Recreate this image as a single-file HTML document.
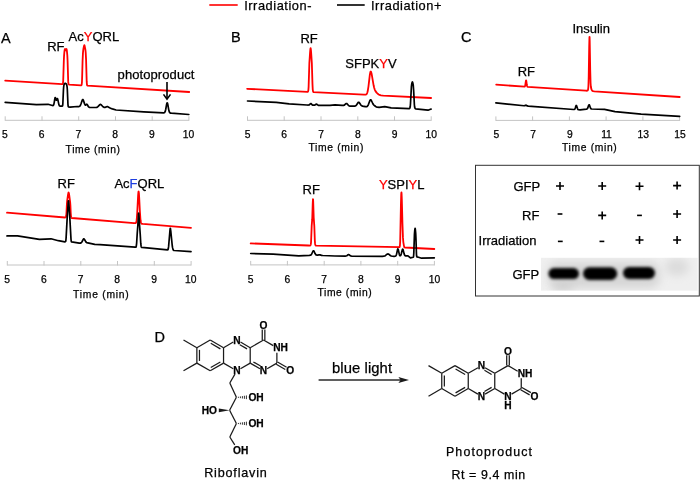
<!DOCTYPE html>
<html><head><meta charset="utf-8"><title>Figure</title>
<style>
html,body{margin:0;padding:0;background:#fff;}
body{width:700px;height:480px;overflow:hidden;}
svg{display:block;will-change:transform;}
svg text{font-family:"Liberation Sans",sans-serif;fill:#000;stroke:#000;stroke-width:0.25px;}
</style></head><body>
<svg width="700" height="480" viewBox="0 0 700 480">
<rect width="700" height="480" fill="#fff"/>
<path d="M5.2,120.3H188.9" stroke="#c4c4c4" stroke-width="1" fill="none"/>
<path d="M5.2,120.8V116.3" stroke="#c4c4c4" stroke-width="1" fill="none"/>
<text x="4.8" y="137.9" font-size="10.3" text-anchor="middle">5</text>
<path d="M42.0,120.8V116.3" stroke="#c4c4c4" stroke-width="1" fill="none"/>
<text x="41.6" y="137.9" font-size="10.3" text-anchor="middle">6</text>
<path d="M78.7,120.8V116.3" stroke="#c4c4c4" stroke-width="1" fill="none"/>
<text x="78.3" y="137.9" font-size="10.3" text-anchor="middle">7</text>
<path d="M115.5,120.8V116.3" stroke="#c4c4c4" stroke-width="1" fill="none"/>
<text x="115.0" y="137.9" font-size="10.3" text-anchor="middle">8</text>
<path d="M152.2,120.8V116.3" stroke="#c4c4c4" stroke-width="1" fill="none"/>
<text x="151.8" y="137.9" font-size="10.3" text-anchor="middle">9</text>
<path d="M188.9,120.8V116.3" stroke="#c4c4c4" stroke-width="1" fill="none"/>
<text x="188.5" y="137.9" font-size="10.3" text-anchor="middle">10</text>
<text x="65.6" y="153.1" font-size="10.3" textLength="54.4" lengthAdjust="spacing">Time (min)</text>
<path d="M7.3,265.0H191.1" stroke="#c4c4c4" stroke-width="1" fill="none"/>
<path d="M7.3,265.5V261.0" stroke="#c4c4c4" stroke-width="1" fill="none"/>
<text x="7.0" y="282.9" font-size="10.3" text-anchor="middle">5</text>
<path d="M44.0,265.5V261.0" stroke="#c4c4c4" stroke-width="1" fill="none"/>
<text x="43.8" y="282.9" font-size="10.3" text-anchor="middle">6</text>
<path d="M80.8,265.5V261.0" stroke="#c4c4c4" stroke-width="1" fill="none"/>
<text x="80.5" y="282.9" font-size="10.3" text-anchor="middle">7</text>
<path d="M117.5,265.5V261.0" stroke="#c4c4c4" stroke-width="1" fill="none"/>
<text x="117.2" y="282.9" font-size="10.3" text-anchor="middle">8</text>
<path d="M154.3,265.5V261.0" stroke="#c4c4c4" stroke-width="1" fill="none"/>
<text x="154.0" y="282.9" font-size="10.3" text-anchor="middle">9</text>
<path d="M191.1,265.5V261.0" stroke="#c4c4c4" stroke-width="1" fill="none"/>
<text x="190.8" y="282.9" font-size="10.3" text-anchor="middle">10</text>
<text x="73.1" y="297.6" font-size="10.3" textLength="55.6" lengthAdjust="spacing">Time (min)</text>
<path d="M247.5,120.3H431.2" stroke="#c4c4c4" stroke-width="1" fill="none"/>
<path d="M247.5,120.8V116.3" stroke="#c4c4c4" stroke-width="1" fill="none"/>
<text x="247.5" y="137.9" font-size="10.3" text-anchor="middle">5</text>
<path d="M284.2,120.8V116.3" stroke="#c4c4c4" stroke-width="1" fill="none"/>
<text x="284.2" y="137.9" font-size="10.3" text-anchor="middle">6</text>
<path d="M321.0,120.8V116.3" stroke="#c4c4c4" stroke-width="1" fill="none"/>
<text x="321.0" y="137.9" font-size="10.3" text-anchor="middle">7</text>
<path d="M357.8,120.8V116.3" stroke="#c4c4c4" stroke-width="1" fill="none"/>
<text x="357.8" y="137.9" font-size="10.3" text-anchor="middle">8</text>
<path d="M394.5,120.8V116.3" stroke="#c4c4c4" stroke-width="1" fill="none"/>
<text x="394.5" y="137.9" font-size="10.3" text-anchor="middle">9</text>
<path d="M431.2,120.8V116.3" stroke="#c4c4c4" stroke-width="1" fill="none"/>
<text x="431.2" y="137.9" font-size="10.3" text-anchor="middle">10</text>
<text x="308.4" y="150.6" font-size="10.3" textLength="55" lengthAdjust="spacing">Time (min)</text>
<path d="M250.7,264.9H434.4" stroke="#c4c4c4" stroke-width="1" fill="none"/>
<path d="M250.7,265.4V260.9" stroke="#c4c4c4" stroke-width="1" fill="none"/>
<text x="250.7" y="283.1" font-size="10.3" text-anchor="middle">5</text>
<path d="M287.4,265.4V260.9" stroke="#c4c4c4" stroke-width="1" fill="none"/>
<text x="287.4" y="283.1" font-size="10.3" text-anchor="middle">6</text>
<path d="M324.2,265.4V260.9" stroke="#c4c4c4" stroke-width="1" fill="none"/>
<text x="324.2" y="283.1" font-size="10.3" text-anchor="middle">7</text>
<path d="M360.9,265.4V260.9" stroke="#c4c4c4" stroke-width="1" fill="none"/>
<text x="360.9" y="283.1" font-size="10.3" text-anchor="middle">8</text>
<path d="M397.7,265.4V260.9" stroke="#c4c4c4" stroke-width="1" fill="none"/>
<text x="397.7" y="283.1" font-size="10.3" text-anchor="middle">9</text>
<path d="M434.4,265.4V260.9" stroke="#c4c4c4" stroke-width="1" fill="none"/>
<text x="434.4" y="283.1" font-size="10.3" text-anchor="middle">10</text>
<text x="317.5" y="295.5" font-size="10.3" textLength="54.2" lengthAdjust="spacing">Time (min)</text>
<path d="M495.9,120.4H679.6" stroke="#c4c4c4" stroke-width="1" fill="none"/>
<path d="M495.9,120.9V116.4" stroke="#c4c4c4" stroke-width="1" fill="none"/>
<text x="496.3" y="138.3" font-size="10.3" text-anchor="middle">5</text>
<path d="M532.6,120.9V116.4" stroke="#c4c4c4" stroke-width="1" fill="none"/>
<text x="533.0" y="138.3" font-size="10.3" text-anchor="middle">7</text>
<path d="M569.4,120.9V116.4" stroke="#c4c4c4" stroke-width="1" fill="none"/>
<text x="569.8" y="138.3" font-size="10.3" text-anchor="middle">9</text>
<path d="M606.1,120.9V116.4" stroke="#c4c4c4" stroke-width="1" fill="none"/>
<text x="606.5" y="138.3" font-size="10.3" text-anchor="middle">11</text>
<path d="M642.9,120.9V116.4" stroke="#c4c4c4" stroke-width="1" fill="none"/>
<text x="643.3" y="138.3" font-size="10.3" text-anchor="middle">13</text>
<path d="M679.6,120.9V116.4" stroke="#c4c4c4" stroke-width="1" fill="none"/>
<text x="680.0" y="138.3" font-size="10.3" text-anchor="middle">15</text>
<text x="562.0" y="151.2" font-size="10.3" textLength="54.8" lengthAdjust="spacing">Time (min)</text>
<path d="M5.20,80.60L62.08,84.12L62.58,84.09L62.83,83.78L62.95,83.35L63.20,80.85L63.83,60.55L64.08,55.33L64.33,52.46L64.58,50.39L64.83,49.19L64.95,49.04L65.08,49.15L65.45,50.00L65.70,50.24L65.95,49.98L66.33,49.11L66.45,49.00L66.58,49.16L66.83,50.41L67.33,55.49L67.58,60.76L68.20,81.15L68.33,82.82L68.58,84.14L68.83,84.48L69.20,84.56L80.95,85.29L81.33,85.25L81.58,84.90L81.70,84.48L81.95,82.18L82.20,75.32L82.58,60.69L82.95,53.15L83.20,50.42L83.45,48.75L84.08,45.75L84.33,45.17L84.45,45.26L84.58,45.60L85.20,48.59L85.45,50.16L85.70,52.67L86.08,59.63L86.70,81.66L86.95,84.57L87.20,85.41L87.45,85.66L189.20,92.00" fill="none" stroke="#ff0000" stroke-width="1.8" stroke-linejoin="round" stroke-linecap="round"/>
<path d="M5.20,102.40L36.33,104.59L48.08,104.30L52.33,105.46L52.95,105.56L53.20,105.50L53.45,105.24L53.83,104.34L54.20,102.55L54.83,98.61L55.08,97.67L55.20,97.49L55.33,97.51L55.45,97.72L56.08,99.86L56.33,100.25L56.45,100.23L56.58,100.08L57.20,98.70L57.33,98.61L57.45,98.65L57.58,98.83L57.95,100.16L58.83,104.37L59.08,105.09L59.45,105.71L59.83,105.98L60.20,106.07L62.33,106.18L62.58,105.76L62.83,103.95L63.45,89.73L63.70,86.54L63.95,85.07L64.33,83.90L64.58,83.64L65.33,83.35L65.58,83.40L65.95,83.64L66.45,84.13L66.83,85.33L67.08,86.77L67.33,89.76L67.95,104.31L68.20,106.39L68.33,106.76L68.58,107.00L70.08,107.19L77.20,106.51L78.83,106.53L79.45,106.36L79.95,105.98L80.45,105.22L80.95,104.00L82.20,100.19L82.58,99.59L82.83,99.51L83.08,99.68L83.45,100.39L84.58,103.88L85.08,104.88L85.33,105.08L85.58,105.08L86.45,104.29L86.70,104.19L86.95,104.27L87.33,104.72L88.45,106.71L88.95,107.15L89.58,107.36L95.20,107.50L96.70,107.35L97.33,107.11L97.95,106.66L99.83,104.66L100.20,104.45L100.58,104.41L101.20,104.72L102.95,106.70L103.45,107.11L103.95,107.36L104.45,107.45L104.95,107.42L106.83,106.71L107.33,106.64L107.70,106.68L108.33,106.94L109.70,107.84L110.45,108.22L112.33,108.89L116.08,110.01L143.70,111.90L163.70,112.85L164.20,112.76L164.57,112.54L164.95,112.02L165.20,111.43L165.70,109.48L166.70,103.96L166.95,103.13L167.20,102.84L167.45,103.14L167.70,104.00L168.70,109.58L169.07,111.16L169.57,112.39L170.07,112.90L170.57,113.08L171.32,113.17L188.82,114.49" fill="none" stroke="#000000" stroke-width="1.7" stroke-linejoin="round" stroke-linecap="round"/>
<path d="M7.00,212.70L65.00,217.49L65.50,217.47L65.75,217.25L66.00,216.73L66.25,215.56L66.50,212.07L66.88,204.19L67.12,201.22L68.00,194.90L68.38,192.92L68.50,192.54L68.62,192.45L68.88,193.18L69.25,195.31L70.12,201.90L70.38,205.13L70.75,213.12L71.00,216.23L71.25,217.30L71.50,217.80L71.75,218.01L134.00,223.19L135.38,223.22L135.62,223.14L135.88,222.92L136.25,222.09L136.50,220.93L136.75,219.04L137.25,212.34L138.12,195.33L138.38,192.33L138.50,191.59L138.62,191.42L138.88,192.82L139.12,196.23L139.88,211.21L140.38,218.59L140.62,220.79L140.88,222.18L141.25,223.25L141.62,223.66L142.00,223.81L142.88,223.92L191.00,227.89" fill="none" stroke="#ff0000" stroke-width="1.8" stroke-linejoin="round" stroke-linecap="round"/>
<path d="M7.00,235.90L17.50,235.90L39.38,239.30L51.00,238.80L58.38,240.71L64.88,241.80L65.50,241.73L65.75,241.18L65.88,240.45L66.12,237.64L67.25,216.59L68.12,203.84L68.38,201.17L68.50,200.75L68.62,201.17L68.88,203.85L69.75,216.63L71.00,239.36L71.25,241.26L71.38,241.65L71.62,241.92L79.25,243.06L80.38,243.11L81.00,242.86L81.62,242.28L82.12,241.49L83.25,239.30L83.62,238.92L83.88,238.87L84.12,239.00L84.50,239.46L85.88,241.92L86.25,242.32L86.62,242.57L94.75,244.39L100.00,244.60L135.00,247.20L135.88,247.17L136.12,246.81L136.25,246.35L136.62,243.36L137.25,233.21L137.88,224.85L138.50,214.33L138.62,213.19L138.75,213.08L139.00,215.80L139.50,224.50L140.25,234.81L140.75,243.22L141.12,246.38L141.25,246.89L141.50,247.33L141.88,247.43L167.50,249.83L167.88,249.77L168.12,249.30L168.25,248.81L168.62,246.39L170.00,230.02L170.25,228.31L170.38,228.26L170.75,230.83L172.25,245.75L172.62,247.88L173.12,249.66L173.38,250.21L173.62,250.41L174.25,250.50L191.00,251.69" fill="none" stroke="#000000" stroke-width="1.7" stroke-linejoin="round" stroke-linecap="round"/>
<path d="M247.10,88.80L307.35,91.81L307.60,91.81L307.85,91.71L308.10,91.27L308.35,90.21L308.60,87.13L309.35,63.18L310.10,51.99L310.35,49.37L310.48,48.50L310.60,48.18L310.73,48.51L310.85,49.40L311.10,52.04L311.85,63.30L312.48,84.13L312.73,89.31L312.98,91.09L313.23,91.81L313.48,92.08L363.85,94.63L365.23,94.66L365.98,94.52L366.48,94.19L366.98,93.47L367.35,92.51L367.73,91.05L368.48,86.32L369.85,74.58L370.35,72.07L370.48,71.77L370.73,71.53L370.85,71.59L371.10,71.97L371.60,73.71L373.60,85.31L374.10,87.51L374.73,89.52L375.48,91.11L376.60,92.65L378.10,94.09L378.73,94.53L379.48,94.93L380.98,95.37L383.35,95.60L431.10,98.00" fill="none" stroke="#ff0000" stroke-width="1.8" stroke-linejoin="round" stroke-linecap="round"/>
<path d="M247.50,101.00L276.25,102.30L289.12,103.90L306.88,105.00L308.38,105.03L309.00,104.93L309.50,104.64L310.38,103.77L310.62,103.62L310.88,103.60L311.25,103.82L312.25,104.85L312.88,105.13L313.88,105.22L314.62,105.14L315.12,104.92L316.00,104.28L316.38,104.16L316.75,104.27L318.00,105.19L318.50,105.34L319.12,105.39L330.00,105.40L335.00,104.80L342.12,105.42L343.38,105.45L343.88,105.35L344.38,105.12L345.88,103.71L346.25,103.50L346.50,103.48L346.75,103.55L347.12,103.83L348.38,105.30L349.00,105.79L349.88,106.12L350.88,106.20L354.25,106.17L355.00,106.07L355.50,105.89L356.00,105.56L356.50,105.02L358.12,102.56L358.50,102.29L358.75,102.25L359.00,102.34L359.38,102.67L360.88,104.98L361.25,105.42L361.75,105.81L362.50,106.09L365.25,106.62L366.25,106.71L366.75,106.64L367.12,106.48L367.50,106.12L367.88,105.59L368.50,104.28L369.88,100.61L370.25,100.00L370.62,99.77L370.88,99.84L371.25,100.26L372.75,103.49L373.12,104.14L373.62,104.79L374.38,105.48L375.75,106.50L376.50,106.93L377.25,107.19L379.12,107.39L384.75,106.61L391.12,107.90L409.12,108.72L409.50,108.56L409.75,108.18L410.00,107.62L410.25,106.46L410.50,103.47L411.38,86.96L411.75,83.97L412.12,82.44L412.38,81.95L412.50,82.02L412.75,82.72L413.25,85.24L413.62,90.04L414.38,104.72L414.62,107.04L414.88,107.93L415.25,108.63L415.62,108.88L428.00,110.20L431.12,109.03" fill="none" stroke="#000000" stroke-width="1.7" stroke-linejoin="round" stroke-linecap="round"/>
<path d="M250.70,243.40L308.32,245.50L309.95,245.53L310.32,245.43L310.57,245.02L310.82,244.15L311.07,242.05L311.70,225.63L312.20,219.42L312.32,216.81L312.70,204.35L312.95,199.06L313.07,199.28L313.20,201.52L313.70,217.52L314.32,226.18L314.82,240.54L315.07,243.69L315.32,244.83L315.70,245.54L316.20,245.64L399.45,247.15L399.70,246.75L399.95,245.25L400.20,241.01L400.95,203.15L401.20,195.08L401.32,192.94L401.45,192.37L401.57,193.39L401.82,199.21L402.45,223.56L402.95,237.38L403.32,242.03L403.95,245.87L404.32,247.23L404.57,247.45L404.82,247.48L434.32,249.00" fill="none" stroke="#ff0000" stroke-width="1.8" stroke-linejoin="round" stroke-linecap="round"/>
<path d="M250.70,253.50L273.07,254.20L298.82,255.80L309.20,255.33L310.57,255.14L311.07,254.85L311.57,254.24L312.95,251.25L313.20,250.90L313.45,250.74L313.70,250.80L314.07,251.28L315.07,253.54L315.70,254.55L316.32,255.01L317.07,255.17L317.82,255.13L319.07,254.80L319.57,254.75L320.07,254.83L321.57,255.33L322.95,255.48L334.95,256.00L345.32,256.06L346.07,256.00L346.70,255.80L348.07,254.71L348.57,254.52L349.07,254.69L350.07,255.54L350.57,255.86L351.07,256.02L351.70,256.09L382.45,256.29L383.82,256.20L384.70,255.97L385.57,255.46L387.07,254.21L387.57,253.97L387.95,253.92L388.32,254.00L388.70,254.20L390.32,255.53L391.20,256.01L392.32,256.24L394.07,256.28L395.45,256.14L395.82,255.90L396.07,255.57L396.57,254.18L397.57,249.46L397.82,248.95L397.95,248.92L398.07,249.07L398.32,249.79L399.32,254.44L399.57,255.13L399.95,255.65L400.20,255.74L400.45,255.64L400.70,255.37L400.95,254.89L401.32,253.77L402.20,250.12L402.45,249.43L402.70,249.18L402.82,249.24L403.07,249.70L404.20,254.10L404.45,254.78L404.82,255.42L405.20,255.72L405.57,255.83L407.95,255.80L410.45,257.89L413.20,257.20L413.45,256.88L413.57,256.33L413.82,252.90L414.45,234.00L414.82,229.63L415.07,228.39L415.20,228.56L415.32,229.23L415.70,233.21L415.95,238.78L416.45,254.14L416.57,255.74L416.82,256.87L417.07,257.02L417.70,257.03L421.57,258.19L434.32,257.90" fill="none" stroke="#000000" stroke-width="1.7" stroke-linejoin="round" stroke-linecap="round"/>
<path d="M496.20,84.70L524.58,86.57L524.83,86.45L524.95,86.29L525.20,85.59L525.83,81.29L526.08,80.33L526.20,80.47L526.33,81.01L526.83,84.77L527.08,86.00L527.33,86.56L527.58,86.75L527.83,86.81L585.70,90.70L586.83,90.73L587.45,90.59L587.83,90.24L588.08,89.49L588.33,87.30L588.45,85.06L588.70,76.71L589.20,46.39L589.45,36.97L589.58,37.07L589.70,40.52L590.20,69.42L590.58,83.06L590.83,86.52L591.08,88.05L591.33,88.93L591.70,89.87L592.08,90.50L592.45,90.87L593.08,91.14L594.33,91.28L679.70,97.00" fill="none" stroke="#ff0000" stroke-width="1.8" stroke-linejoin="round" stroke-linecap="round"/>
<path d="M495.90,102.90L524.02,105.73L524.77,105.70L525.65,105.26L526.02,105.18L526.27,105.27L527.27,105.92L528.27,106.10L573.65,109.50L574.40,109.40L574.65,109.23L574.90,108.90L575.27,108.02L575.90,106.02L576.15,105.55L576.27,105.47L576.40,105.51L576.65,105.94L577.40,108.37L577.90,109.38L578.15,109.61L578.52,109.77L580.02,109.90L586.40,109.17L587.02,108.98L587.40,108.62L587.65,108.20L588.65,105.36L588.90,104.88L589.15,104.75L589.27,104.83L589.52,105.26L590.27,107.45L590.65,108.27L591.15,108.81L591.77,108.99L604.52,109.41L615.02,111.60L641.15,114.10L679.65,116.40" fill="none" stroke="#000000" stroke-width="1.7" stroke-linejoin="round" stroke-linecap="round"/>
<path d="M209.3,5H237.7" stroke="#ff0000" stroke-width="1.6"/>
<path d="M337,5H364.7" stroke="#000000" stroke-width="1.6"/>
<text x="244.2" y="9.8" font-size="12.8" textLength="67.2" lengthAdjust="spacing">Irradiation-</text>
<text x="371" y="9.8" font-size="12.8" textLength="70.4" lengthAdjust="spacing">Irradiation+</text>
<text x="0.9" y="42.8" font-size="14.5" >A</text>
<text x="230.9" y="42.4" font-size="14.5" >B</text>
<text x="460.9" y="42.0" font-size="14.5" >C</text>
<text x="154.6" y="341.8" font-size="14.5" >D</text>
<text x="47.2" y="50.8" font-size="13" >RF</text>
<text x="68.6" y="40.6" font-size="13" >Ac<tspan fill="#ff0000" stroke="#ff0000">Y</tspan>QRL</text>
<text x="117.6" y="78.6" font-size="13" textLength="76.8" lengthAdjust="spacing">photoproduct</text>
<text x="57.5" y="188.0" font-size="13" >RF</text>
<text x="114.4" y="188.2" font-size="13" >Ac<tspan fill="#1f3fe0" stroke="#1f3fe0">F</tspan>QRL</text>
<text x="300.4" y="42.7" font-size="13" >RF</text>
<text x="345.3" y="68.1" font-size="13" >SFPK<tspan fill="#ff0000" stroke="#ff0000">Y</tspan>V</text>
<text x="302.5" y="193.5" font-size="13" >RF</text>
<text x="378.9" y="189.4" font-size="13" ><tspan fill="#ff0000" stroke="#ff0000">Y</tspan>SPI<tspan fill="#ff0000" stroke="#ff0000">Y</tspan>L</text>
<text x="517.7" y="75.7" font-size="13" >RF</text>
<text x="572.4" y="33.0" font-size="13" >Insulin</text>
<path d="M167,82V98.6" stroke="#000" stroke-width="1.6" fill="none"/><path d="M163.5,94.4L167,99.2L170.5,94.4" stroke="#000" stroke-width="1.6" fill="none"/>
<rect x="475.5" y="165.3" width="223.8" height="130.7" fill="none" stroke="#333" stroke-width="1"/>
<text x="513.5" y="190.5" font-size="13" >GFP</text>
<text x="522.1" y="220.2" font-size="13" >RF</text>
<text x="478.6" y="245.1" font-size="13" >Irradiation</text>
<text x="512.5" y="278.7" font-size="13" >GFP</text>
<path d="M556,186H564M560,182V190" stroke="#000" stroke-width="1.6"/>
<path d="M598.2,186H606.2M602.2,182V190" stroke="#000" stroke-width="1.6"/>
<path d="M635.5,186.3H643.5M639.5,182.3V190.3" stroke="#000" stroke-width="1.6"/>
<path d="M673.1,185.6H681.1M677.1,181.6V189.6" stroke="#000" stroke-width="1.6"/>
<path d="M557.6,214H562.4" stroke="#000" stroke-width="1.6"/>
<path d="M598.2,215.4H606.2M602.2,211.4V219.4" stroke="#000" stroke-width="1.6"/>
<path d="M637.1,215.4H641.9" stroke="#000" stroke-width="1.6"/>
<path d="M673.1,214H681.1M677.1,210V218" stroke="#000" stroke-width="1.6"/>
<path d="M557.9,241.4H562.6999999999999" stroke="#000" stroke-width="1.6"/>
<path d="M599.5,241.4H604.3" stroke="#000" stroke-width="1.6"/>
<path d="M635.5,240H643.5M639.5,236V244" stroke="#000" stroke-width="1.6"/>
<path d="M673.1,240H681.1M677.1,236V244" stroke="#000" stroke-width="1.6"/>
<defs><filter id="bl" x="-20%" y="-50%" width="140%" height="200%"><feGaussianBlur stdDeviation="1.6"/></filter><filter id="bl2" x="-50%" y="-50%" width="200%" height="200%"><feGaussianBlur stdDeviation="4"/></filter><clipPath id="gc"><rect x="541" y="257.8" width="156.6" height="32.8"/></clipPath></defs>
<rect x="541" y="257.8" width="156.6" height="32.8" fill="#efefef"/>
<g clip-path="url(#gc)">
<rect x="548" y="262" width="112" height="26" rx="10" fill="#d6d6d6" filter="url(#bl2)"/>
<ellipse cx="677" cy="267" rx="12" ry="9" fill="#dcdcdc" filter="url(#bl2)"/>
<ellipse cx="563" cy="286" rx="11" ry="4" fill="#cdcdcd" filter="url(#bl2)"/>
<rect x="548.4" y="268.1" width="30.600000000000023" height="11.0" rx="5.5" fill="#000" filter="url(#bl)"/>
<rect x="583" y="267.3" width="34.200000000000045" height="12.6" rx="6.3" fill="#000" filter="url(#bl)"/>
<rect x="623" y="266.90000000000003" width="32" height="12.200000000000001" rx="6.1000000000000005" fill="#000" filter="url(#bl)"/>
</g>
<path d="M210.20,340.00L223.54,347.70" stroke="#1a1a1a" stroke-width="1.25" fill="none" stroke-linecap="butt"/>
<path d="M223.54,347.70L223.54,363.10" stroke="#1a1a1a" stroke-width="1.25" fill="none" stroke-linecap="butt"/>
<path d="M223.54,363.10L210.20,370.80" stroke="#1a1a1a" stroke-width="1.25" fill="none" stroke-linecap="butt"/>
<path d="M210.20,370.80L196.86,363.10" stroke="#1a1a1a" stroke-width="1.25" fill="none" stroke-linecap="butt"/>
<path d="M196.86,363.10L196.86,347.70" stroke="#1a1a1a" stroke-width="1.25" fill="none" stroke-linecap="butt"/>
<path d="M196.86,347.70L210.20,340.00" stroke="#1a1a1a" stroke-width="1.25" fill="none" stroke-linecap="butt"/>
<path d="M199.46,360.94L199.46,349.86" stroke="#1a1a1a" stroke-width="1.25" fill="none" stroke-linecap="butt"/>
<path d="M210.77,343.33L220.37,348.87" stroke="#1a1a1a" stroke-width="1.25" fill="none" stroke-linecap="butt"/>
<path d="M220.37,361.93L210.77,367.47" stroke="#1a1a1a" stroke-width="1.25" fill="none" stroke-linecap="butt"/>
<path d="M196.86,347.70L183.53,340.00" stroke="#1a1a1a" stroke-width="1.25" fill="none" stroke-linecap="butt"/>
<path d="M196.86,363.10L183.53,370.80" stroke="#1a1a1a" stroke-width="1.25" fill="none" stroke-linecap="butt"/>
<path d="M223.54,347.70L233.27,342.08" stroke="#1a1a1a" stroke-width="1.25" fill="none" stroke-linecap="butt"/>
<path d="M240.47,342.08L250.21,347.70" stroke="#1a1a1a" stroke-width="1.25" fill="none" stroke-linecap="butt"/>
<path d="M250.21,347.70L250.21,363.10" stroke="#1a1a1a" stroke-width="1.25" fill="none" stroke-linecap="butt"/>
<path d="M250.21,363.10L240.47,368.72" stroke="#1a1a1a" stroke-width="1.25" fill="none" stroke-linecap="butt"/>
<path d="M233.27,368.72L223.54,363.10" stroke="#1a1a1a" stroke-width="1.25" fill="none" stroke-linecap="butt"/>
<path d="M239.84,344.72L247.04,348.87" stroke="#1a1a1a" stroke-width="1.25" fill="none" stroke-linecap="butt"/>
<path d="M250.21,347.70L263.55,340.00" stroke="#1a1a1a" stroke-width="1.25" fill="none" stroke-linecap="butt"/>
<path d="M263.55,340.00L273.28,345.62" stroke="#1a1a1a" stroke-width="1.25" fill="none" stroke-linecap="butt"/>
<path d="M276.88,352.63L276.88,363.10" stroke="#1a1a1a" stroke-width="1.25" fill="none" stroke-linecap="butt"/>
<path d="M276.88,363.10L267.15,368.72" stroke="#1a1a1a" stroke-width="1.25" fill="none" stroke-linecap="butt"/>
<path d="M259.95,368.72L250.21,363.10" stroke="#1a1a1a" stroke-width="1.25" fill="none" stroke-linecap="butt"/>
<path d="M260.58,366.08L253.38,361.93" stroke="#1a1a1a" stroke-width="1.25" fill="none" stroke-linecap="butt"/>
<path d="M262.25,340.00L262.25,329.60" stroke="#1a1a1a" stroke-width="1.25" fill="none" stroke-linecap="butt"/>
<path d="M264.85,340.00L264.85,329.60" stroke="#1a1a1a" stroke-width="1.25" fill="none" stroke-linecap="butt"/>
<text x="263.55" y="328.80" font-size="10.2" font-weight="bold" text-anchor="middle" fill="#000">O</text>
<path d="M277.53,361.97L286.60,367.21" stroke="#1a1a1a" stroke-width="1.25" fill="none" stroke-linecap="butt"/>
<path d="M276.23,364.23L285.30,369.46" stroke="#1a1a1a" stroke-width="1.25" fill="none" stroke-linecap="butt"/>
<text x="290.22" y="374.30" font-size="10.2" font-weight="bold" text-anchor="middle" fill="#000">O</text>
<text x="236.87" y="343.50" font-size="10.2" font-weight="bold" text-anchor="middle" fill="#000">N</text>
<text x="236.87" y="374.30" font-size="10.2" font-weight="bold" text-anchor="middle" fill="#000">N</text>
<text x="273.28" y="351.20" font-size="10.2" font-weight="bold" text-anchor="start" fill="#000">NH</text>
<text x="263.55" y="374.30" font-size="10.2" font-weight="bold" text-anchor="middle" fill="#000">N</text>
<path d="M234.96,374.09L229.80,383.00" stroke="#1a1a1a" stroke-width="1.25" fill="none" stroke-linecap="butt"/>
<path d="M229.80,383.00L236.40,397.30" stroke="#1a1a1a" stroke-width="1.25" fill="none" stroke-linecap="butt"/>
<path d="M236.40,397.30L229.60,410.30" stroke="#1a1a1a" stroke-width="1.25" fill="none" stroke-linecap="butt"/>
<path d="M229.60,410.30L236.40,423.50" stroke="#1a1a1a" stroke-width="1.25" fill="none" stroke-linecap="butt"/>
<path d="M236.40,423.50L229.80,437.00" stroke="#1a1a1a" stroke-width="1.25" fill="none" stroke-linecap="butt"/>
<path d="M229.80,437.00L234.75,444.88" stroke="#1a1a1a" stroke-width="1.25" fill="none" stroke-linecap="butt"/>
<path d="M238.40,396.74L238.40,397.86" stroke="#1a1a1a" stroke-width="0.9" fill="none" stroke-linecap="butt"/>
<path d="M240.40,396.42L240.40,398.18" stroke="#1a1a1a" stroke-width="0.9" fill="none" stroke-linecap="butt"/>
<path d="M242.40,396.10L242.40,398.50" stroke="#1a1a1a" stroke-width="0.9" fill="none" stroke-linecap="butt"/>
<path d="M244.40,395.78L244.40,398.82" stroke="#1a1a1a" stroke-width="0.9" fill="none" stroke-linecap="butt"/>
<path d="M246.40,395.46L246.40,399.14" stroke="#1a1a1a" stroke-width="0.9" fill="none" stroke-linecap="butt"/>
<path d="M238.40,422.94L238.40,424.06" stroke="#1a1a1a" stroke-width="0.9" fill="none" stroke-linecap="butt"/>
<path d="M240.40,422.62L240.40,424.38" stroke="#1a1a1a" stroke-width="0.9" fill="none" stroke-linecap="butt"/>
<path d="M242.40,422.30L242.40,424.70" stroke="#1a1a1a" stroke-width="0.9" fill="none" stroke-linecap="butt"/>
<path d="M244.40,421.98L244.40,425.02" stroke="#1a1a1a" stroke-width="0.9" fill="none" stroke-linecap="butt"/>
<path d="M246.40,421.66L246.40,425.34" stroke="#1a1a1a" stroke-width="0.9" fill="none" stroke-linecap="butt"/>
<text x="248.40" y="400.90" font-size="10.2" font-weight="bold" text-anchor="start" fill="#000">OH</text>
<text x="248.40" y="427.10" font-size="10.2" font-weight="bold" text-anchor="start" fill="#000">OH</text>
<path d="M229.6,410.3L218.8,408.40000000000003L218.8,412.2Z" fill="#1a1a1a"/>
<text x="217.00" y="413.90" font-size="10.2" font-weight="bold" text-anchor="end" fill="#000">HO</text>
<text x="233.00" y="453.80" font-size="10.2" font-weight="bold" text-anchor="start" fill="#000">OH</text>
<text x="204.2" y="476.7" font-size="12.6" textLength="62.6" lengthAdjust="spacing">Riboflavin</text>
<path d="M318.6,380H401" stroke="#2a2a2a" stroke-width="1.4"/><path d="M409,380L398.4,377.1L400.6,380L398.4,382.9Z" fill="#1a1a1a"/>
<text x="332" y="372.8" font-size="14.8" textLength="60" lengthAdjust="spacing">blue light</text>
<path d="M455.00,365.60L468.25,373.25" stroke="#1a1a1a" stroke-width="1.25" fill="none" stroke-linecap="butt"/>
<path d="M468.25,373.25L468.25,388.55" stroke="#1a1a1a" stroke-width="1.25" fill="none" stroke-linecap="butt"/>
<path d="M468.25,388.55L455.00,396.20" stroke="#1a1a1a" stroke-width="1.25" fill="none" stroke-linecap="butt"/>
<path d="M455.00,396.20L441.75,388.55" stroke="#1a1a1a" stroke-width="1.25" fill="none" stroke-linecap="butt"/>
<path d="M441.75,388.55L441.75,373.25" stroke="#1a1a1a" stroke-width="1.25" fill="none" stroke-linecap="butt"/>
<path d="M441.75,373.25L455.00,365.60" stroke="#1a1a1a" stroke-width="1.25" fill="none" stroke-linecap="butt"/>
<path d="M444.35,386.41L444.35,375.39" stroke="#1a1a1a" stroke-width="1.25" fill="none" stroke-linecap="butt"/>
<path d="M455.56,368.92L465.10,374.43" stroke="#1a1a1a" stroke-width="1.25" fill="none" stroke-linecap="butt"/>
<path d="M465.10,387.37L455.56,392.88" stroke="#1a1a1a" stroke-width="1.25" fill="none" stroke-linecap="butt"/>
<path d="M441.75,373.25L428.50,365.60" stroke="#1a1a1a" stroke-width="1.25" fill="none" stroke-linecap="butt"/>
<path d="M441.75,388.55L428.50,396.20" stroke="#1a1a1a" stroke-width="1.25" fill="none" stroke-linecap="butt"/>
<path d="M468.25,373.25L477.92,367.67" stroke="#1a1a1a" stroke-width="1.25" fill="none" stroke-linecap="butt"/>
<path d="M485.08,367.67L494.75,373.25" stroke="#1a1a1a" stroke-width="1.25" fill="none" stroke-linecap="butt"/>
<path d="M494.75,373.25L494.75,388.55" stroke="#1a1a1a" stroke-width="1.25" fill="none" stroke-linecap="butt"/>
<path d="M494.75,388.55L485.08,394.13" stroke="#1a1a1a" stroke-width="1.25" fill="none" stroke-linecap="butt"/>
<path d="M477.92,394.13L468.25,388.55" stroke="#1a1a1a" stroke-width="1.25" fill="none" stroke-linecap="butt"/>
<path d="M484.44,370.30L491.60,374.43" stroke="#1a1a1a" stroke-width="1.25" fill="none" stroke-linecap="butt"/>
<path d="M494.75,373.25L508.00,365.60" stroke="#1a1a1a" stroke-width="1.25" fill="none" stroke-linecap="butt"/>
<path d="M508.00,365.60L517.67,371.18" stroke="#1a1a1a" stroke-width="1.25" fill="none" stroke-linecap="butt"/>
<path d="M521.25,378.15L521.25,388.55" stroke="#1a1a1a" stroke-width="1.25" fill="none" stroke-linecap="butt"/>
<path d="M521.25,388.55L511.58,394.13" stroke="#1a1a1a" stroke-width="1.25" fill="none" stroke-linecap="butt"/>
<path d="M504.42,394.13L494.75,388.55" stroke="#1a1a1a" stroke-width="1.25" fill="none" stroke-linecap="butt"/>
<path d="M491.60,387.37L484.44,391.50" stroke="#1a1a1a" stroke-width="1.25" fill="none" stroke-linecap="butt"/>
<path d="M506.70,365.60L506.70,355.30" stroke="#1a1a1a" stroke-width="1.25" fill="none" stroke-linecap="butt"/>
<path d="M509.30,365.60L509.30,355.30" stroke="#1a1a1a" stroke-width="1.25" fill="none" stroke-linecap="butt"/>
<text x="508.00" y="354.50" font-size="10.2" font-weight="bold" text-anchor="middle" fill="#000">O</text>
<path d="M521.90,387.42L530.91,392.63" stroke="#1a1a1a" stroke-width="1.25" fill="none" stroke-linecap="butt"/>
<path d="M520.60,389.68L529.61,394.88" stroke="#1a1a1a" stroke-width="1.25" fill="none" stroke-linecap="butt"/>
<text x="534.50" y="399.70" font-size="10.2" font-weight="bold" text-anchor="middle" fill="#000">O</text>
<text x="481.50" y="369.10" font-size="10.2" font-weight="bold" text-anchor="middle" fill="#000">N</text>
<text x="481.50" y="399.70" font-size="10.2" font-weight="bold" text-anchor="middle" fill="#000">N</text>
<text x="517.65" y="376.75" font-size="10.2" font-weight="bold" text-anchor="start" fill="#000">NH</text>
<text x="508.00" y="399.70" font-size="10.2" font-weight="bold" text-anchor="middle" fill="#000">N</text>
<text x="508.00" y="408.50" font-size="10.2" font-weight="bold" text-anchor="middle" fill="#000">H</text>
<text x="446" y="455.9" font-size="12.4" textLength="86" lengthAdjust="spacing">Photoproduct</text>
<text x="451.4" y="479.4" font-size="12.4" textLength="73.8" lengthAdjust="spacing">Rt = 9.4 min</text>
</svg>
</body></html>
